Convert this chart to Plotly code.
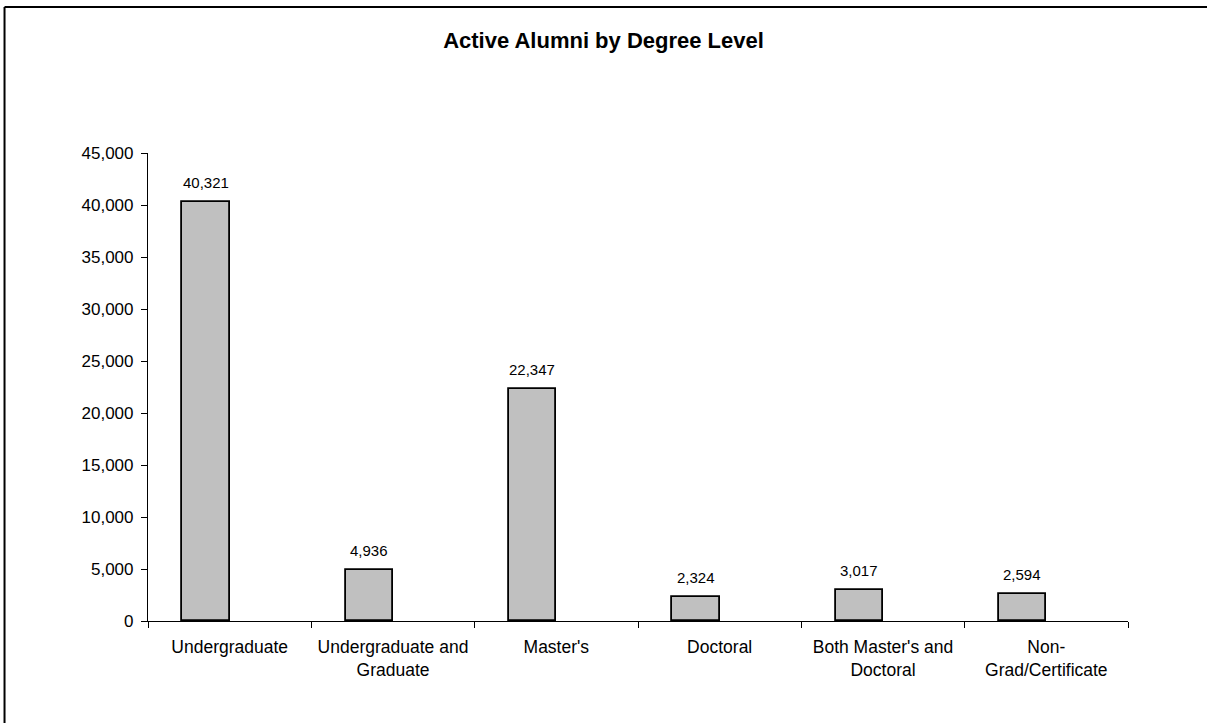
import plotly.graph_objects as go

categories = ["Undergraduate", "Undergraduate and<br>Graduate", "Master's", "Doctoral",
              "Both Master's and<br>Doctoral", "Non-<br>Grad/Certificate"]
values = [40321, 4936, 22347, 2324, 3017, 2594]
y_ticks = [0, 5000, 10000, 15000, 20000, 25000, 30000, 35000, 40000, 45000]
title_text = "Active Alumni by Degree Level"

FONT = "Liberation Sans, Arial, sans-serif"

fig = go.Figure()
fig.add_trace(go.Bar(
    x=categories, y=values,
    width=0.29, offset=-0.29,
    marker=dict(color="#C0C0C0", line=dict(color="black", width=1.8)),
    hoverinfo="x+y",
))

annotations = []
for c, v in zip(categories, values):
    annotations.append(dict(
        x=c, y=v, xref="x", yref="y", text=f"{v:,}", showarrow=False,
        xanchor="center", yanchor="bottom", yshift=9, xshift=-24,
        font=dict(family=FONT, size=15, color="black"),
    ))

border = dict(color="black", width=2)
fig.update_layout(
    width=1207, height=723,
    margin=dict(l=148, r=79, t=153, b=102),
    paper_bgcolor="white", plot_bgcolor="white",
    font=dict(family=FONT, size=17, color="black"),
    title=dict(text=f"<b>{title_text}</b>", x=0.5, xanchor="center",
               y=0.944, yanchor="middle",
               font=dict(family=FONT, size=22, color="black")),
    showlegend=False,
    annotations=annotations,
    shapes=[
        dict(type="line", xref="paper", yref="paper",
             x0=-0.1464, x1=1.081, y0=1.312, y1=1.312, line=border, layer="below"),
        dict(type="line", xref="paper", yref="paper",
             x0=-0.1464, x1=-0.1464, y0=-0.5, y1=1.312, line=border, layer="below"),
    ],
    bargap=0,
)
fig.update_xaxes(
    showline=True, linecolor="black", linewidth=1.2,
    ticks="outside", tickson="boundaries", ticklen=6, tickcolor="black", tickwidth=1.2,
    showgrid=False, zeroline=False, tickfont=dict(size=17.5),
    ticklabelstandoff=10,
)
fig.update_yaxes(
    range=[0, 45000], tickvals=y_ticks, tickformat=",",
    showline=True, linecolor="black", linewidth=1.2,
    ticks="outside", ticklen=6, tickcolor="black", tickwidth=1.2,
    showgrid=False, zeroline=False, tickfont=dict(size=17),
    ticklabelstandoff=4,
)

fig.write_html(
    "out.html",
    config={"displayModeBar": False},
    post_script="document.body.style.margin='0';document.body.style.overflow='hidden';",
)
